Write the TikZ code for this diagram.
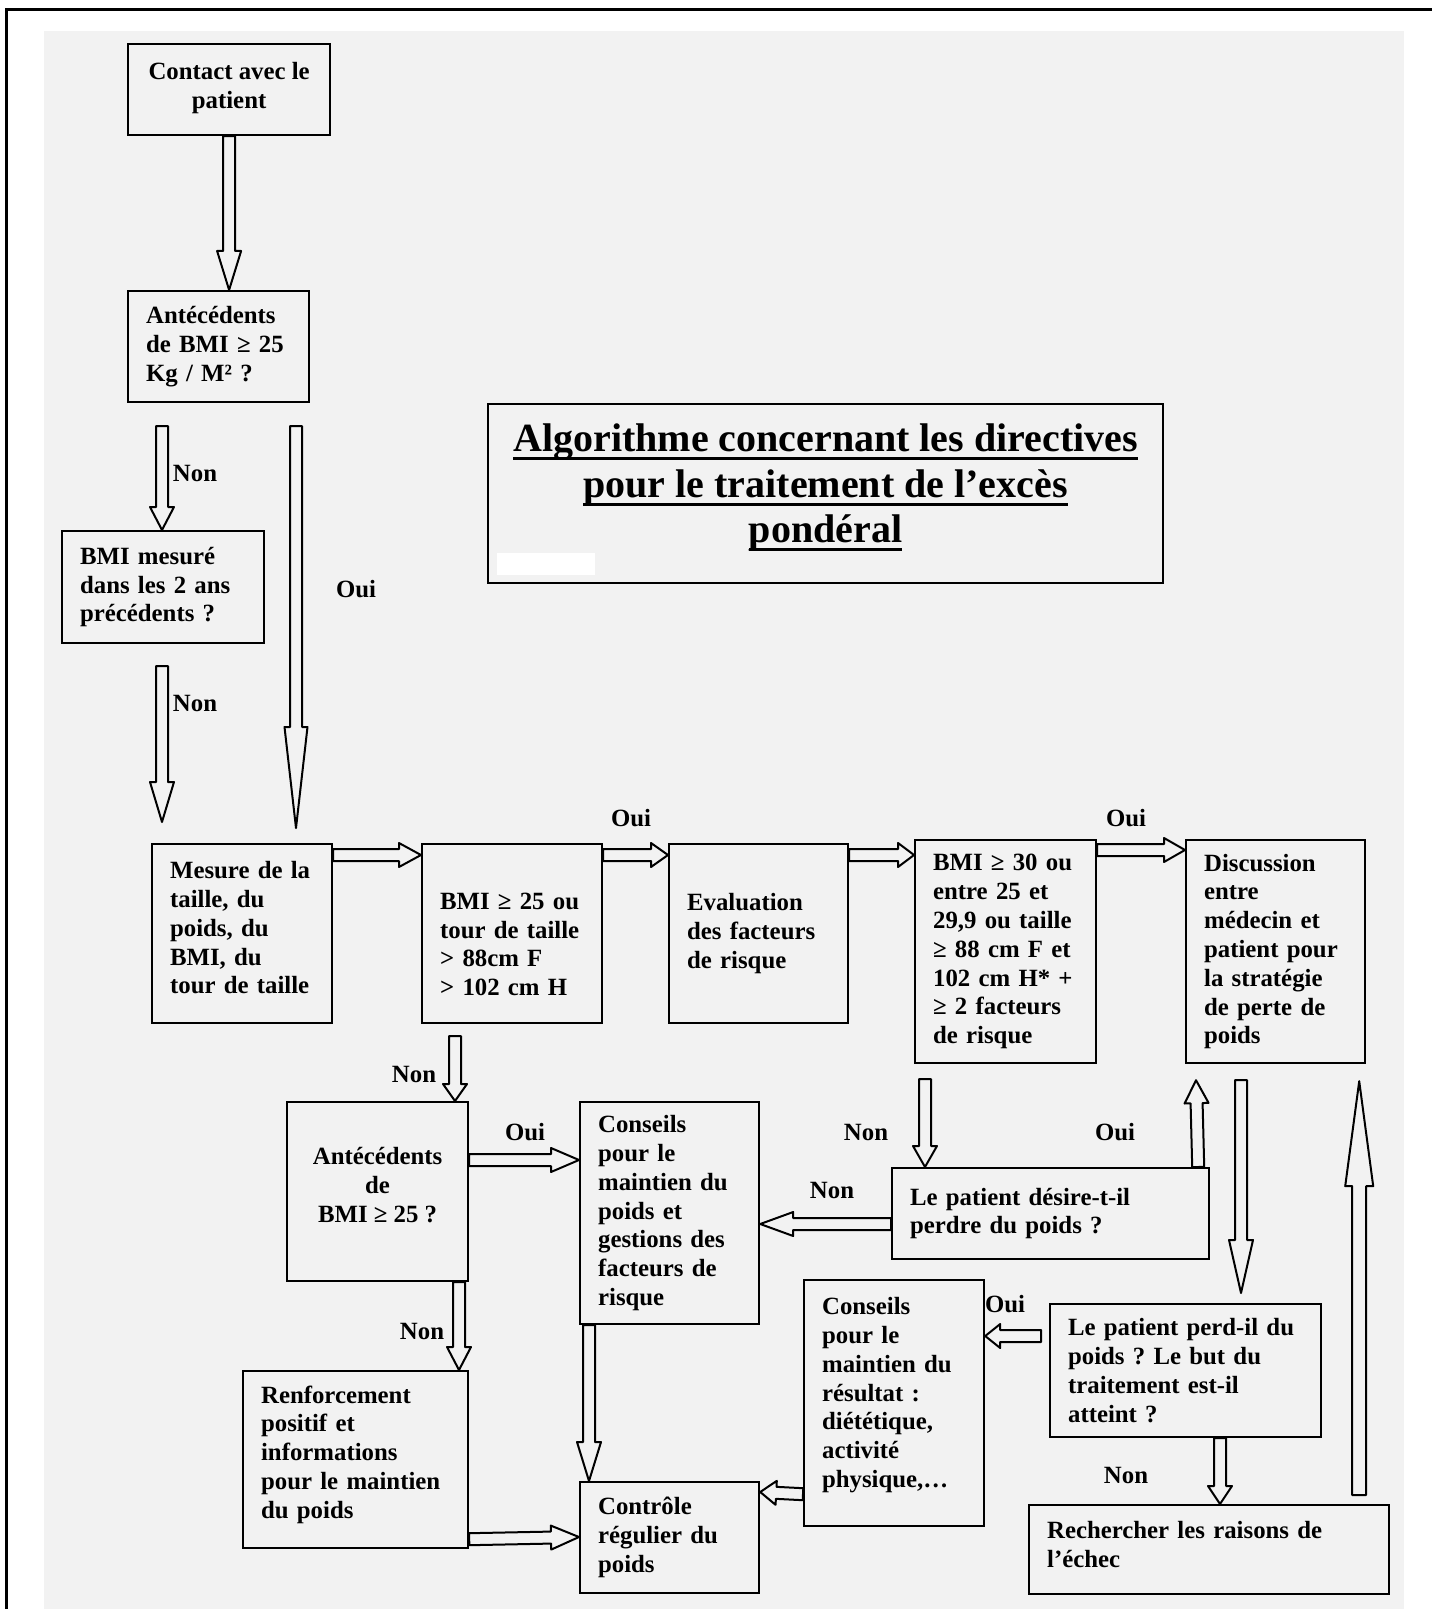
\documentclass[tikz,border=0pt]{standalone}
\usepackage{fontspec}
\setmainfont{Liberation Serif}
\usetikzlibrary{calc}
\frenchspacing

\newcommand\souligne[1]{\setbox0\hbox{#1}\rlap{\rule[-4.25pt]{\wd0}{1.5pt}}\box0}
\newcommand\basse[1]{\rule[-#1]{0pt}{#1}}

\tikzset{
  box/.style={draw, line width=1.1pt, anchor=north west, align=left, inner xsep=9pt,
    font=\bfseries\fontsize{12.4}{14.4}\selectfont},
  cbox/.style={box, align=center, inner xsep=2pt},
  lab/.style={font=\bfseries\fontsize{12.4}{14.4}\selectfont, inner sep=0pt},
  fat/.style n args={3}{line width=1pt, line join=round, to path={
      ($(\tikztostart)!#1!90:(\tikztotarget)$)
      -- ($(\tikztotarget)!#3!(\tikztostart)!#1!90:(\tikztotarget)$)
      -- ($(\tikztotarget)!#3!(\tikztostart)!#2!90:(\tikztotarget)$)
      -- (\tikztotarget)
      -- ($(\tikztotarget)!#3!(\tikztostart)!#2!-90:(\tikztotarget)$)
      -- ($(\tikztotarget)!#3!(\tikztostart)!#1!-90:(\tikztotarget)$)
      -- ($(\tikztostart)!#1!-90:(\tikztotarget)$) -- cycle}},
  fleche/.style={fat={3pt}{6pt}{#1}},
}

\begin{document}
\begin{tikzpicture}[x=0.5pt, y=-0.5pt]
  \useasboundingbox (0,0) rectangle (1432,1609);
  % page
  \fill[black!5] (44,31) rectangle (1404,1609);
  \draw[line width=1.5pt] (6,1609) -- (6,10) -- (1432,10);

  % boxes
  \node[cbox, minimum width=101pt, minimum height=45.5pt] (contact) at (127,43) {Contact avec le\\patient\basse{4pt}};
  \node[box, text width=72.5pt, minimum height=55.5pt] (ante1) at (127,290) {Antécédents\\de BMI ≥ 25\\Kg / M² ?};
  \node[box, text width=83pt, minimum height=56pt] (bmimes) at (61,530) {BMI mesuré\\dans les 2 ans\\précédents ?};
  \node[draw, line width=1.1pt, anchor=north west, align=center, minimum width=337.5pt, minimum height=89.5pt,
    font=\bfseries\fontsize{20}{22.8}\selectfont] (titre) at (487,403)
    {\souligne{Algorithme concernant les directives}\\\souligne{pour le traitement de l’excès}\\\souligne{pondéral}\basse{10.3pt}};
  \fill[white] (497,553) rectangle (595,575);

  \node[box, text width=72pt, minimum height=89.5pt] (mesure) at (151,843) {Mesure de la\\taille, du\\poids, du\\BMI, du\\tour de taille\basse{6pt}};
  \node[box, text width=72pt, minimum height=89.5pt] (bmi25) at (421,843) {\rule{0pt}{19pt}BMI ≥ 25 ou\\tour de taille\\> 88cm F\\> 102 cm H};
  \node[box, text width=71.5pt, minimum height=89.5pt] (evalf) at (668,843) {Evaluation\\des facteurs\\de risque};
  \node[box, text width=72.5pt, minimum height=111.5pt] (bmi30) at (914,839) {BMI ≥ 30 ou\\entre 25 et\\29,9 ou taille\\≥ 88 cm F et\\102 cm H* +\\≥ 2 facteurs\\de risque};
  \node[box, text width=71.5pt, minimum height=111.5pt] (discus) at (1185,839) {Discussion\\entre\\médecin et\\patient pour\\la stratégie\\de perte de\\poids};

  \node[cbox, minimum width=90.5pt, minimum height=89.5pt] (ante2) at (286,1101) {Antécédents\\de\\BMI ≥ 25 ?\basse{7pt}};
  \node[box, text width=71.5pt, minimum height=111pt] (consA) at (579,1101) {Conseils\\pour le\\maintien du\\poids et\\gestions des\\facteurs de\\risque};
  \node[box, text width=140.5pt, minimum height=45.5pt] (desire) at (891,1167) {Le patient désire-t-il\\perdre du poids ?};
  \node[box, text width=72pt, minimum height=123pt] (consB) at (803,1279) {Conseils\\pour le\\maintien du\\résultat :\\diététique,\\activité\\physique,…\basse{10.7pt}};
  \node[box, text width=117.5pt, minimum height=66.5pt] (perd) at (1049,1303) {Le patient perd-il du\\poids ? Le but du\\traitement est-il\\atteint ?};
  \node[box, text width=94.5pt, minimum height=88.5pt] (renf) at (242,1370) {Renforcement\\positif et\\informations\\pour le maintien\\du poids\basse{7.7pt}};
  \node[box, text width=71.5pt, minimum height=55.5pt] (ctrl) at (579,1481) {Contrôle\\régulier du\\poids};
  \node[box, text width=162pt, minimum height=44.5pt] (rech) at (1028,1504) {Rechercher les raisons de\\l’échec\basse{5pt}};

  % labels
  \node[lab] (non1) at (195,474) {Non};
  \node[lab] (oui1) at (356,589) {Oui};
  \node[lab] (non2) at (195,703) {Non};
  \node[lab] (oui2) at (631,818) {Oui};
  \node[lab] (oui3) at (1126,818) {Oui};
  \node[lab] (non3) at (414,1074) {Non};
  \node[lab] (oui4) at (525,1132) {Oui};
  \node[lab] (non4) at (422,1331) {Non};
  \node[lab] (non5) at (866,1132) {Non};
  \node[lab] (oui5) at (1115,1132) {Oui};
  \node[lab] (non6) at (832,1190) {Non};
  \node[lab] (oui6) at (1005,1304) {Oui};
  \node[lab] (non7) at (1126,1475) {Non};

  % arrows
  \draw[fleche=19.5pt] (contact.south) to (contact.south |- ante1.north);
  \draw[fleche=11.5pt] ([shift={(35,23)}]ante1.south west) to ([shift={(101,0)}]bmimes.north west);
  \draw[fat={3pt}{5.75pt}{50.5pt}] ([shift={(169,23)}]ante1.south west) to ([shift={(145,-15)}]mesure.north west);
  \draw[fleche=20pt] ([shift={(101,22)}]bmimes.south west) to ([shift={(11,-21)}]mesure.north west);
  \draw[fleche=11pt] ([shift={(0,12)}]mesure.north east) to ([shift={(0,12)}]bmi25.north west);
  \draw[fleche=8.5pt] ([shift={(0,12)}]bmi25.north east) to ([shift={(0,12)}]evalf.north west);
  \draw[fleche=8pt] ([shift={(0,12)}]evalf.north east) to ([shift={(0,16)}]bmi30.north west);
  \draw[fleche=10.5pt] ([shift={(0,11)}]bmi30.north east) to ([shift={(0,11)}]discus.north west);
  \draw[fleche=8.5pt] ([shift={(34,12)}]bmi25.south west) to ([shift={(169,0)}]ante2.north west);
  \draw[fleche=14pt] ([shift={(0,59)}]ante2.north east) to ([shift={(0,59)}]consA.north west);
  \draw[fleche=11.5pt] ([shift={(173,0)}]ante2.south west) to ([shift={(217,0)}]renf.north west);
  \draw[fleche=19.5pt] ([shift={(10,0)}]consA.south west) to ([shift={(10,0)}]ctrl.north west);
  \draw[fleche=14pt] ([shift={(0,-10)}]renf.south east) to ([shift={(0,56)}]ctrl.north west);
  \draw[fleche=10.5pt] ([shift={(11,15)}]bmi30.south west) to ([shift={(34,0)}]desire.north west);
  \draw[fleche=11.5pt] ([shift={(-12,0)}]desire.north east) to ([shift={(11,16)}]discus.south west);
  \draw[fleche=16.5pt] ([shift={(0,57)}]desire.north west) to ([shift={(0,123)}]consA.north east);
  \draw[fleche=26.5pt] ([shift={(56,16)}]discus.south west) to ([shift={(192,-10)}]perd.north west);
  \draw[fleche=7.5pt] ([shift={(-8,33)}]perd.north west) to ([shift={(0,57)}]consB.north east);
  \draw[fleche=8pt] ([shift={(0,-33)}]consB.south west) to ([shift={(0,11)}]ctrl.north east);
  \draw[fleche=9pt] ([shift={(171,0)}]perd.south west) to ([shift={(192,0)}]rech.north west);
  \draw[fat={3.5pt}{7pt}{52.5pt}] ([shift={(-31,-9)}]rech.north east) to ([shift={(-7,17)}]discus.south east);
\end{tikzpicture}
\end{document}
